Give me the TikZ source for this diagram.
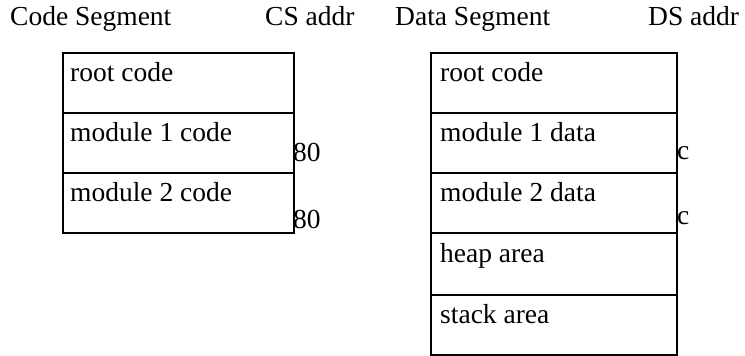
\documentclass[tikz,border=0pt]{standalone}
\usepackage{fontspec}
\setmainfont{Liberation Serif}
\begin{document}
\begin{tikzpicture}[x=1pt,y=1pt,
  row/.style={draw,line width=1.3pt,minimum height=60pt,inner sep=0pt,outer sep=0pt},
  lrow/.style={row,minimum width=231pt},
  rrow/.style={row,minimum width=246pt},
  txt/.style={inner sep=0pt,anchor=base west,font=\fontsize{27.5}{33}\selectfont}]
\useasboundingbox (0,0) rectangle (745,356);
% headings (y = 356 - pixel y)
\node[txt] (h1) at (10,330) {Code Segment};
\node[txt] (h2) at (265,330) {CS addr};
\node[txt] (h3) at (395,330) {Data Segment};
\node[txt] (h4) at (648,330) {DS addr};
% left box rows
\node[lrow] (l1) at (178.5,273) {};
\node[lrow] (l2) at (178.5,213) {};
\node[lrow] (l3) at (178.5,153) {};
\node[txt] (lt1) at (70,274) {root code};
\node[txt] (lt2) at (70,214) {module 1 code};
\node[txt] (lt3) at (70,154) {module 2 code};
\node[txt] (la1) at (293,194) {80};
\node[txt] (la2) at (293,127) {80};
% right box rows
\node[rrow] (r1) at (554,273) {};
\node[rrow] (r2) at (554,213) {};
\node[rrow] (r3) at (554,153) {};
\node[rrow,minimum height=62pt] (r4) at (554,92) {};
\node[rrow] (r5) at (554,31) {};
\node[txt] (rt1) at (440,274) {root code};
\node[txt] (rt2) at (440,214) {module 1 data};
\node[txt] (rt3) at (440,154) {module 2 data};
\node[txt] (rt4) at (440,93) {heap area};
\node[txt] (rt5) at (440,32) {stack area};
\node[txt] (ra1) at (677,196) {c};
\node[txt] (ra2) at (677,131) {c};
\end{tikzpicture}
\end{document}
